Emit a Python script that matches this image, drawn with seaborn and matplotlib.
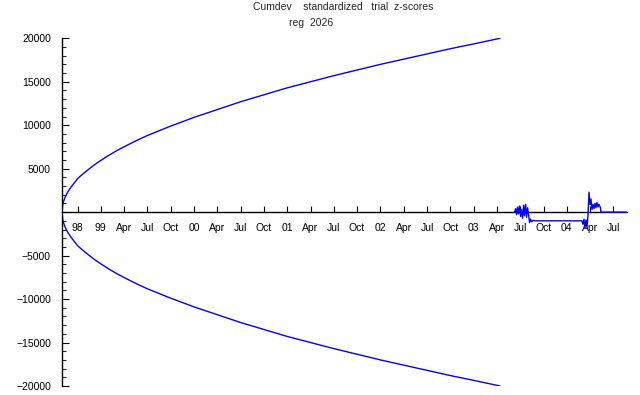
import numpy as np
import pandas as pd
import matplotlib
matplotlib.use("Agg")
import matplotlib.pyplot as plt
import seaborn as sns

# x values are months counted from Jan 1998 (0 = Jan 98)
envelope_month = [7.0, 7.1, 7.2, 7.35, 7.5, 7.75, 8.0, 8.25, 8.5, 8.75, 9, 9.5, 10, 10.5,
                  11, 11.5, 12, 13, 14, 15, 16.5, 18, 21, 24, 27, 30, 33,
                  36, 39, 42, 45, 48, 51, 54, 57, 60, 63.4]
envelope_value = [0, 890, 1230, 1600, 1910, 2330, 2680, 2990, 3280, 3550, 3850, 4250,
                  4620, 4980, 5330, 5650, 5950, 6520, 7050, 7520, 8200, 8820, 9900,
                  10900, 11800, 12700, 13500, 14300, 15000, 15700, 16350, 17000, 17600,
                  18200, 18800, 19350, 20000]

cumdev_month = [65.28, 65.41, 65.54, 65.66, 65.79, 65.92, 66.05, 66.18, 66.31, 66.44,
                66.56, 66.69, 66.82, 66.95, 67.08, 67.21, 67.33, 67.46, 67.65, 68.04,
                73.95, 74.08, 74.21, 74.34, 74.47, 74.60, 74.73, 74.86, 74.99, 75.11,
                75.24, 75.37, 75.50, 75.62, 75.75, 75.88, 76.01, 76.14, 76.33, 76.40, 79.7]
cumdev_value = [0, 400, -300, 600, -200, 700, -500, 300, -700, 800,
                -400, 900, -600, 500, -300, -1200, -800, -1100, -950, -1000,
                -1000, -1400, -800, -1800, -900, -1700, -300, 2300, 900, 1500,
                300, 900, 400, 1000, 500, 1100, 600, 900, 500, 0, 0]

tick_month = [9, 12, 15, 18, 21, 24, 27, 30, 33, 36, 39, 42, 45, 48, 51, 54, 57, 60,
              63, 66, 69, 72, 75, 78]
tick_label = ["98", "99", "Apr", "Jul", "Oct", "00", "Apr", "Jul", "Oct", "01", "Apr",
              "Jul", "Oct", "02", "Apr", "Jul", "Oct", "03", "Apr", "Jul", "Oct", "04",
              "Apr", "Jul"]
ytick_major = [-20000, -15000, -10000, -5000, 5000, 10000, 15000, 20000]

sns.set_style("white")
plt.rcParams['font.family'] = ['Liberation Sans', 'DejaVu Sans']
plt.rcParams['axes.unicode_minus'] = True

fig = plt.figure(figsize=(6.4, 3.95), dpi=100)
ax = fig.add_axes([62 / 640, 1 - 386 / 395, 565 / 640, 347.7 / 395])

env = pd.DataFrame({"month": envelope_month, "upper": envelope_value,
                    "lower": [-v for v in envelope_value]})
cum = pd.DataFrame({"month": cumdev_month, "value": cumdev_value})

blue = (0, 0, 1)
sns.lineplot(data=env, x="month", y="upper", ax=ax, color=blue, lw=1.0,
             estimator=None, sort=False)
sns.lineplot(data=env, x="month", y="lower", ax=ax, color=blue, lw=1.0,
             estimator=None, sort=False)
sns.lineplot(data=cum, x="month", y="value", ax=ax, color=blue, lw=1.0,
             estimator=None, sort=False, zorder=5)

ax.set_xlim(7.0, 79.75)
ax.set_ylim(-20000, 20000)
ax.set_xlabel("")
ax.set_ylabel("")

for s in ["top", "right"]:
    ax.spines[s].set_visible(False)
ax.spines["bottom"].set_position(("data", 0))
ax.spines["bottom"].set_color("black")
ax.spines["left"].set_color("black")
ax.spines["bottom"].set_linewidth(1.0)
ax.spines["left"].set_linewidth(1.0)

ax.set_xticks(tick_month)
ax.set_xticklabels(tick_label)
ax.set_yticks(ytick_major)
ax.set_yticklabels([f"{v}".replace("-", "\u2212") for v in ytick_major])
ax.set_yticks(np.arange(-20000, 20001, 1000), minor=True)

ax.tick_params(axis="x", which="major", direction="in", length=4, width=0.8,
               pad=8, labelsize=7.5, colors="black", bottom=True)
ax.tick_params(axis="y", which="major", direction="in", length=5, width=0.8,
               pad=8, labelsize=7.5, colors="black", left=True)
ax.tick_params(axis="y", which="minor", direction="in", length=3, width=0.8,
               left=True)

fig.text(343 / 640, 1 - 7 / 395, "Cumdev    standardized   trial  z-scores",
         ha="center", va="center", fontsize=7.5)
fig.text(311.5 / 640, 1 - 23 / 395, "reg  2026", ha="center", va="center", fontsize=7.5)

fig.savefig("out.png", dpi=100, facecolor="white")
